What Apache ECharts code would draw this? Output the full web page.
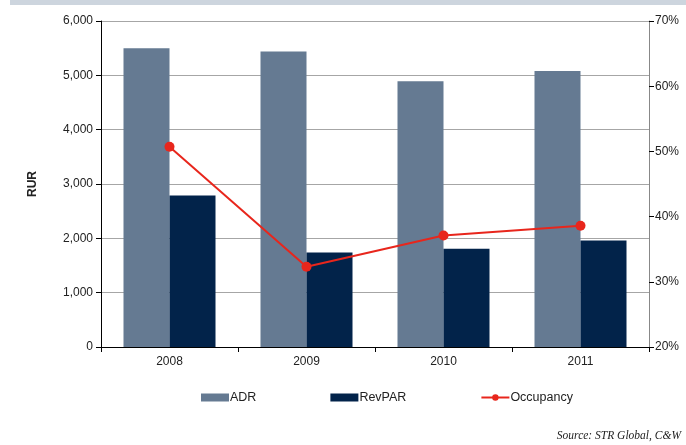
<!DOCTYPE html>
<html>
<head>
<meta charset="utf-8">
<script src="https://cdn.jsdelivr.net/npm/echarts@6/dist/echarts.min.js"></script>
<style>
html,body{margin:0;padding:0;background:#fff;}
#c{width:686px;height:445px;}
</style>
</head>
<body>
<div id="c"></div>
<script>
const categories = ['2008', '2009', '2010', '2011'];
const adr = [5500, 5440, 4890, 5080];
const revpar = [2790, 1740, 1810, 1960];
const occupancy = [50.7, 32.3, 37.1, 38.6];
const leftTicks = [0, 1000, 2000, 3000, 4000, 5000, 6000];
const rightTicks = [20, 30, 40, 50, 60, 70];

const chart = echarts.init(document.getElementById('c'), null, {renderer: 'canvas'});
const font = 'Liberation Sans, Arial, sans-serif';
chart.setOption({
  animation: false,
  backgroundColor: '#fff',
  graphic: [
    {type: 'rect', left: 10, top: 0, shape: {width: 676, height: 5}, style: {fill: '#cdd5de'}},
    {type: 'text', right: 5, top: 430, style: {text: 'Source: STR Global, C&W', font: 'italic 11.5px "Liberation Serif", "Times New Roman", serif', fill: '#222'}}
  ],
  grid: {left: 101, right: 37, top: 21, bottom: 98},
  legend: {
    bottom: 36, left: 196,
    itemWidth: 28, itemHeight: 8, itemGap: 74,
    textStyle: {fontFamily: font, fontSize: 12.5, color: '#222', padding: [0, 0, 0, -4]},
    data: [
      {name: 'ADR', icon: 'rect'},
      {name: 'RevPAR', icon: 'rect'},
      {name: 'Occupancy'}
    ]
  },
  xAxis: {
    type: 'category', data: categories,
    axisLine: {lineStyle: {color: '#000', width: 1}},
    axisTick: {show: true, length: 5, lineStyle: {color: '#000'}},
    axisLabel: {fontFamily: font, fontSize: 12, color: '#222', margin: 9}
  },
  yAxis: [
    {
      type: 'value', min: 0, max: 6000, interval: 1000,
      name: 'RUR', nameLocation: 'middle', nameGap: 62, nameRotate: 90,
      nameTextStyle: {fontFamily: font, fontSize: 12, fontWeight: 'bold', color: '#222'},
      axisLine: {show: true, lineStyle: {color: '#000'}},
      axisTick: {show: true, length: 5, lineStyle: {color: '#000'}},
      axisLabel: {fontFamily: font, fontSize: 12, color: '#222', margin: 8,
        formatter: v => v.toLocaleString('en-US')},
      splitLine: {lineStyle: {color: '#a6a6a6', width: 1}}
    },
    {
      type: 'value', min: 20, max: 70, interval: 10, position: 'right',
      axisLine: {show: true, lineStyle: {color: '#888'}},
      axisTick: {show: true, length: 5, lineStyle: {color: '#000'}},
      axisLabel: {fontFamily: font, fontSize: 12, color: '#222', margin: 6, formatter: '{value}%'},
      splitLine: {show: false}
    }
  ],
  series: [
    {name: 'ADR', type: 'bar', data: adr, barWidth: 46, barGap: '0%', itemStyle: {color: '#657a92'}},
    {name: 'RevPAR', type: 'bar', data: revpar, barWidth: 46, barGap: '0%', itemStyle: {color: '#02234a'}},
    {name: 'Occupancy', type: 'line', yAxisIndex: 1, data: occupancy,
      symbol: 'circle', symbolSize: 10,
      lineStyle: {color: '#e8261c', width: 2}, itemStyle: {color: '#e8261c'}}
  ]
});
</script>
</body>
</html>
